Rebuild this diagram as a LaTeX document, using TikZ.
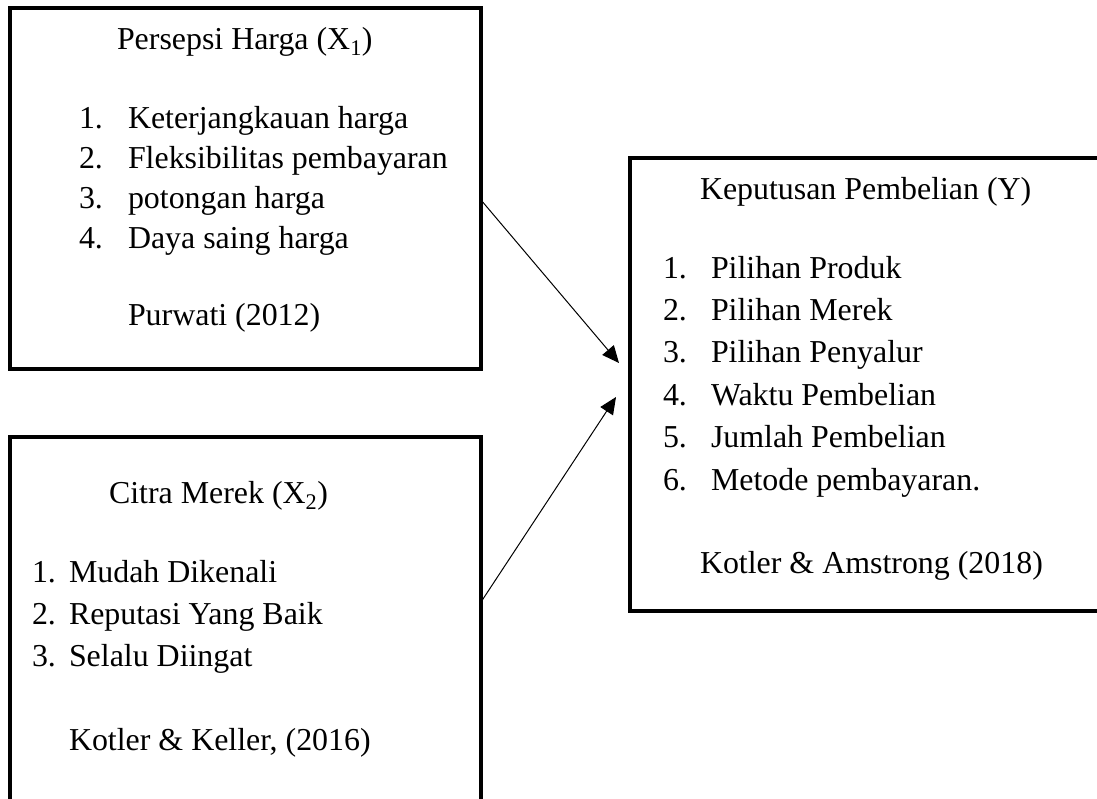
\documentclass[tikz,border=0pt]{standalone}
\usepackage{fontspec}
\setmainfont{Liberation Serif}
\usetikzlibrary{arrows.meta}
\begin{document}
\begin{tikzpicture}[x=1pt,y=-1pt,
  box/.style={draw, line width=3.5pt, rectangle, inner sep=0pt, outer sep=0pt, anchor=north west},
  txt/.style={anchor=base west, inner sep=0pt, outer sep=0pt, font=\fontsize{31.9}{38}\selectfont},
  conn/.style={line width=1pt, -{Triangle[length=17pt,width=15pt]}}]
\useasboundingbox (0,0) rectangle (1097,798);
\clip (0,0) rectangle (1097,798);
% boxes
\node[box, minimum width=471pt, minimum height=361pt] (b1) at (10,8) {};
\node[box, minimum width=471pt, minimum height=430pt] (b2) at (10,437) {};
\node[box, minimum width=500pt, minimum height=453pt] (b3) at (630,158) {};
% box 1
\node[txt] (h1) at (117,49) {Persepsi Harga (X\textsubscript{1})};
\foreach \t [count=\i] in {Keterjangkauan harga, Fleksibilitas pembayaran, potongan harga, Daya saing harga}{
  \node[txt] (n1\i) at (79,{128+40*(\i-1)}) {\i.};
  \node[txt] (i1\i) at (128,{128+40*(\i-1)}) {\t};
}
\node[txt] (r1) at (128,325) {Purwati (2012)};
% box 2
\node[txt] (h2) at (109,503) {Citra Merek (X\textsubscript{2})};
\foreach \t [count=\i] in {Mudah Dikenali, Reputasi Yang Baik, Selalu Diingat}{
  \node[txt] (n2\i) at (32,{582+42*(\i-1)}) {\i.};
  \node[txt] (i2\i) at (69,{582+42*(\i-1)}) {\t};
}
\node[txt] (r2) at (69,750) {Kotler \& Keller, (2016)};
% box 3
\node[txt] (h3) at (700,199) {Keputusan Pembelian (Y)};
\foreach \t [count=\i] in {Pilihan Produk, Pilihan Merek, Pilihan Penyalur, Waktu Pembelian, Jumlah Pembelian, Metode pembayaran.}{
  \node[txt] (n3\i) at (663,{278+42.4*(\i-1)}) {\i.};
  \node[txt] (i3\i) at (711,{278+42.4*(\i-1)}) {\t};
}
\node[txt] (r3) at (700,573) {Kotler \& Amstrong (2018)};
% connectors
\coordinate (s1) at (481,200);
\coordinate (e1) at (619,363);
\coordinate (s2) at (481,602);
\coordinate (e2) at (616,397);
\draw[conn] (s1) -- (e1);
\draw[conn] (s2) -- (e2);
\end{tikzpicture}
\end{document}
